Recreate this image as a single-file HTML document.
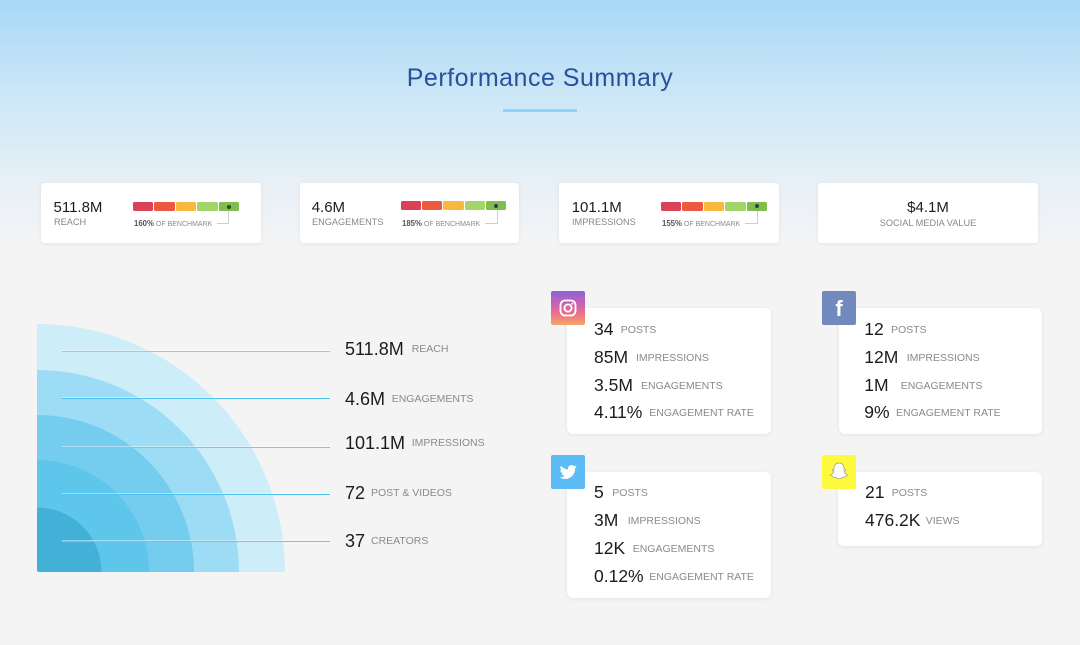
<!DOCTYPE html>
<html><head><meta charset="utf-8">
<style>
*{margin:0;padding:0;box-sizing:border-box}
html,body{width:1080px;height:645px;overflow:hidden}
body{position:relative;font-family:"Liberation Sans",Arial,sans-serif;background:linear-gradient(#a8d9f6 0px,#bfe1f6 60px,#d4eaf7 120px,#e8f0f6 185px,#f3f4f5 240px,#f4f4f4 260px);}
.a{position:absolute;white-space:nowrap;line-height:1}
.card{position:absolute;background:#fff;border-radius:3px;box-shadow:0 1px 4px rgba(0,0,0,0.07)}
.pc{position:absolute;background:#fff;border-radius:6px;box-shadow:0 1px 4px rgba(0,0,0,0.07)}
.v15{font-size:15px;color:#1c1c1c}
.l9{font-size:9.2px;color:#888}
.bar{position:absolute;display:flex;gap:1.3px;width:106px;height:9px}
.bar div{flex:1;border-radius:1.5px}
.s1{background:#dc4256}.s2{background:#eb5a40}.s3{background:#f7b83e}.s4{background:#a3d56a}.s5{background:#7dbe4c;position:relative}
.s5:after{content:"";position:absolute;left:7.8px;top:2.5px;width:4px;height:4px;border-radius:50%;background:#3b3b3b}
.bm{font-size:7px;color:#8a8a8a}
.bm b{font-size:7.8px;color:#555}
.cv{position:absolute;background:#cfcfcf}
.v18{font-size:18px;color:#1c1c1c}
.l10{font-size:10.5px;color:#8a8a8a}
.v17{font-size:17.5px;color:#1c1c1c}
.hl{position:absolute;left:62px;width:268px;height:1px;background:#4fc1ee}
.hl:before{content:"";position:absolute;left:0;right:0;top:-1px;height:1px;background:rgba(255,255,255,0.45)}
.ic{position:absolute;width:34px;height:34px;border-radius:2px}
</style></head><body>

<div class="a" style="left:0;width:1080px;top:66px;text-align:center;font-size:25px;letter-spacing:0.5px;color:#28509d">Performance Summary</div>
<div style="position:absolute;left:503px;top:109px;width:74px;height:2.5px;background:#8fd3fb;border-radius:1px"></div>

<!-- stat cards -->
<div class="card" style="left:41px;top:183px;width:220px;height:60px"></div>
<div class="card" style="left:300px;top:183px;width:219px;height:60px"></div>
<div class="card" style="left:559px;top:183px;width:220px;height:60px"></div>
<div class="card" style="left:818px;top:183px;width:220px;height:60px"></div>

<div class="a v15" style="left:53.5px;top:200.3px">511.8M</div>
<div class="a l9" style="left:54px;top:218.2px">REACH</div>
<div class="bar" style="left:133px;top:202px"><div class="s1"></div><div class="s2"></div><div class="s3"></div><div class="s4"></div><div class="s5"></div></div>
<div class="a bm" style="left:134px;top:220.3px"><b>160%</b> OF BENCHMARK</div>
<div class="cv" style="left:228px;top:211px;width:1px;height:12px"></div>
<div class="cv" style="left:217px;top:223px;width:12px;height:1px"></div>

<div class="a v15" style="left:311.7px;top:200.3px">4.6M</div>
<div class="a l9" style="left:312px;top:218.2px">ENGAGEMENTS</div>
<div class="bar" style="left:400.5px;top:201px"><div class="s1"></div><div class="s2"></div><div class="s3"></div><div class="s4"></div><div class="s5"></div></div>
<div class="a bm" style="left:402px;top:220.3px"><b>185%</b> OF BENCHMARK</div>
<div class="cv" style="left:497px;top:210px;width:1px;height:13px"></div>
<div class="cv" style="left:485px;top:223px;width:13px;height:1px"></div>

<div class="a v15" style="left:571.7px;top:200.3px">101.1M</div>
<div class="a l9" style="left:572px;top:218.2px">IMPRESSIONS</div>
<div class="bar" style="left:661px;top:201.5px"><div class="s1"></div><div class="s2"></div><div class="s3"></div><div class="s4"></div><div class="s5"></div></div>
<div class="a bm" style="left:662px;top:220.3px"><b>155%</b> OF BENCHMARK</div>
<div class="cv" style="left:757px;top:210.5px;width:1px;height:12.5px"></div>
<div class="cv" style="left:745px;top:223px;width:13px;height:1px"></div>

<div class="a v15" style="left:818px;width:220px;text-align:center;top:199.6px">$4.1M</div>
<div class="a l9" style="left:818px;width:220px;text-align:center;top:218.5px">SOCIAL MEDIA VALUE</div>

<!-- quarter circles -->
<svg style="position:absolute;left:37px;top:324px" width="249" height="249" viewBox="0 0 249 249">
<defs><clipPath id="cp"><path d="M0 0 H249 V248 H3 Q0 248 0 245 Z"/></clipPath></defs>
<g clip-path="url(#cp)">
<path d="M0 248 L0 0 A248 248 0 0 1 248 248 Z" fill="#cdedf9"/>
<path d="M0 248 L0 46 A202 202 0 0 1 202 248 Z" fill="#9cdcf4"/>
<path d="M0 248 L0 91 A157 157 0 0 1 157 248 Z" fill="#74cdee"/>
<path d="M0 248 L0 136 A112 112 0 0 1 112 248 Z" fill="#5ec5eb"/>
<path d="M0 248 L0 183.5 A64.5 64.5 0 0 1 64.5 248 Z" fill="#43b0d8"/>
</g>
</svg>
<div class="hl" style="top:351px;background:#80d2f3"></div>
<div class="hl" style="top:398px"></div>
<div class="hl" style="top:446.5px;background:#6ecbf0"></div>
<div class="hl" style="top:494px"></div>
<div class="hl" style="top:541px;background:#66c9f0"></div>

<div class="a v18" style="left:345px;top:339.7px">511.8M</div>
<div class="a l10" style="left:411.7px;top:344px">REACH</div>
<div class="a v18" style="left:345px;top:389.7px">4.6M</div>
<div class="a l10" style="left:391.7px;top:394px">ENGAGEMENTS</div>
<div class="a v18" style="left:345px;top:434px">101.1M</div>
<div class="a l10" style="left:411.7px;top:438.3px">IMPRESSIONS</div>
<div class="a v18" style="left:345px;top:484px">72</div>
<div class="a l10" style="left:371px;top:488.3px">POST &amp; VIDEOS</div>
<div class="a v18" style="left:345px;top:532px">37</div>
<div class="a l10" style="left:371px;top:536.3px">CREATORS</div>

<!-- platform cards -->
<div class="pc" style="left:567px;top:308px;width:204px;height:126px"></div>
<div class="pc" style="left:839px;top:308px;width:203px;height:126px"></div>
<div class="pc" style="left:567px;top:472px;width:204px;height:126px"></div>
<div class="pc" style="left:838px;top:472px;width:204px;height:74px"></div>

<!-- instagram icon -->
<div class="ic" style="left:551px;top:291px;background:linear-gradient(to bottom,#8d60d9 0%,#c963b0 40%,#ea6f8c 65%,#f6a468 100%)">
<svg width="34" height="34" viewBox="0 0 34 34"><rect x="9.5" y="9.5" width="15" height="15" rx="4.5" fill="none" stroke="#fff" stroke-width="1.8"/><circle cx="17" cy="17" r="3.6" fill="none" stroke="#fff" stroke-width="1.8"/><circle cx="21.3" cy="12.7" r="1" fill="#fff"/></svg>
</div>
<!-- facebook icon -->
<div class="ic" style="left:822px;top:291px;background:#7189bd">
<div class="a" style="left:0;width:34px;text-align:center;top:7px;font-size:22px;font-weight:bold;color:#fff">f</div>
</div>
<!-- twitter icon -->
<div class="ic" style="left:551px;top:455px;background:#5dbcf4">
<svg width="34" height="34" viewBox="0 0 34 34"><g transform="translate(8,8) scale(0.75)"><path fill="#fff" d="M23.643 4.937c-.835.37-1.732.62-2.675.733.962-.576 1.7-1.49 2.048-2.578-.9.534-1.897.922-2.958 1.13-.85-.904-2.06-1.470-3.4-1.470-2.572 0-4.658 2.086-4.658 4.660 0 .364.042.718.12 1.060-3.873-.195-7.304-2.050-9.602-4.868-.4.690-.63 1.490-.63 2.342 0 1.616.823 3.043 2.072 3.878-.764-.025-1.482-.234-2.110-.583v.060c0 2.257 1.605 4.140 3.737 4.568-.392.106-.803.162-1.227.162-.3 0-.593-.028-.877-.082.593 1.850 2.313 3.198 4.352 3.234-1.595 1.250-3.604 1.995-5.786 1.995-.376 0-.747-.022-1.112-.065 2.062 1.323 4.510 2.093 7.140 2.093 8.570 0 13.255-7.098 13.255-13.254 0-.2-.005-.402-.014-.602.910-.658 1.700-1.478 2.323-2.410z"/></g></svg>
</div>
<!-- snapchat icon -->
<div class="ic" style="left:822px;top:455px;background:#fdfa3e">
<svg width="34" height="34" viewBox="0 0 34 34"><g transform="translate(5,5)"><path fill="#fff" stroke="#9a9a9a" stroke-width="0.7" d="M12 3c3 0 5 2.2 5 5.2v2l1.5-.5.4.8-1.8 1c.5 1.6 1.8 2.8 3.4 3.3l-.2.8c-.8.3-1.6.4-2 .6l-.3 1c-.8 0-1.6-.2-2.4.2-.9.4-1.8 1.4-3.6 1.4s-2.7-1-3.6-1.4c-.8-.4-1.6-.2-2.4-.2l-.3-1c-.4-.2-1.2-.3-2-.6l-.2-.8c1.6-.5 2.9-1.7 3.4-3.3l-1.8-1 .4-.8 1.5.5v-2C7 5.2 9 3 12 3z"/></g></svg>
</div>

<!-- instagram rows -->
<div class="a v17" style="left:594px;top:320.8px">34</div>
<div class="a l10" style="left:620.7px;top:324.6px">POSTS</div>
<div class="a v17" style="left:594px;top:349.1px">85M</div>
<div class="a l10" style="left:636px;top:352.9px">IMPRESSIONS</div>
<div class="a v17" style="left:594px;top:376.8px">3.5M</div>
<div class="a l10" style="left:641px;top:380.6px">ENGAGEMENTS</div>
<div class="a v17" style="left:594px;top:404.4px">4.11%</div>
<div class="a l10" style="left:649.3px;top:408.2px">ENGAGEMENT RATE</div>

<!-- facebook rows -->
<div class="a v17" style="left:864.3px;top:321.1px">12</div>
<div class="a l10" style="left:891px;top:324.9px">POSTS</div>
<div class="a v17" style="left:864.3px;top:349.1px">12M</div>
<div class="a l10" style="left:906.7px;top:352.9px">IMPRESSIONS</div>
<div class="a v17" style="left:864.3px;top:376.8px">1M</div>
<div class="a l10" style="left:900.7px;top:380.6px">ENGAGEMENTS</div>
<div class="a v17" style="left:864.3px;top:404.4px">9%</div>
<div class="a l10" style="left:896px;top:408.2px">ENGAGEMENT RATE</div>

<!-- twitter rows -->
<div class="a v17" style="left:594px;top:484.4px">5</div>
<div class="a l10" style="left:612.3px;top:488.2px">POSTS</div>
<div class="a v17" style="left:594px;top:512.4px">3M</div>
<div class="a l10" style="left:627.7px;top:516.2px">IMPRESSIONS</div>
<div class="a v17" style="left:594px;top:540.4px">12K</div>
<div class="a l10" style="left:632.7px;top:544.2px">ENGAGEMENTS</div>
<div class="a v17" style="left:594px;top:568.4px">0.12%</div>
<div class="a l10" style="left:649.3px;top:572.2px">ENGAGEMENT RATE</div>

<!-- snapchat rows -->
<div class="a v17" style="left:865px;top:484.4px">21</div>
<div class="a l10" style="left:891.7px;top:488.2px">POSTS</div>
<div class="a v17" style="left:865px;top:512.4px">476.2K</div>
<div class="a l10" style="left:925.7px;top:516.2px">VIEWS</div>

</body></html>
